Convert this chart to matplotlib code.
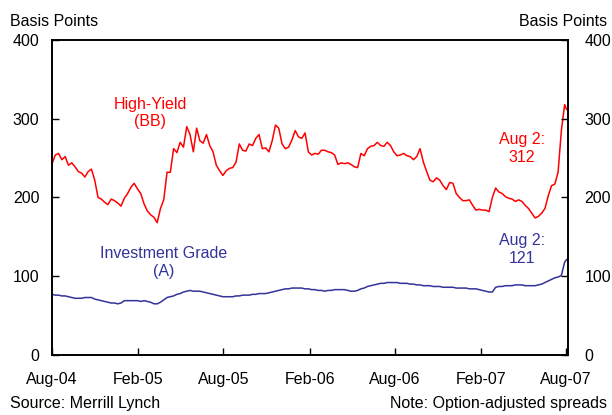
import matplotlib
matplotlib.use("Agg")
import matplotlib.pyplot as plt
import pandas as pd

plt.rcParams['font.family'] = ['Liberation Sans', 'DejaVu Sans']

# weekly observations starting 2004-08-01, plus final point on 2007-08-02
start_date = '2004-08-01'
final_date = '2007-08-02'

high_yield = [243, 254, 256, 248, 252, 241, 244, 239, 233, 231,
              226, 233, 236, 222, 200, 198, 194, 191, 198, 196,
              193, 189, 199, 205, 213, 218, 211, 205, 192, 183,
              178, 175, 168, 186, 197, 232, 232, 262, 257, 270,
              264, 290, 280, 258, 288, 272, 269, 280, 266, 258,
              241, 234, 228, 234, 237, 238, 245, 268, 260, 259,
              268, 266, 275, 280, 262, 263, 258, 272, 292, 288,
              268, 262, 264, 273, 285, 277, 275, 282, 258, 254,
              256, 255, 260, 260, 258, 257, 254, 242, 244, 243,
              244, 242, 239, 238, 256, 253, 262, 265, 266, 270,
              266, 265, 270, 266, 258, 253, 254, 256, 253, 252,
              248, 252, 262, 245, 233, 222, 220, 225, 222, 215,
              210, 219, 218, 205, 200, 196, 196, 197, 190, 184,
              185, 184, 184, 182, 200, 212, 207, 205, 201, 199,
              198, 195, 197, 195, 190, 186, 180, 174, 176, 180,
              186, 202, 215, 217, 232, 285, 318, 312]

inv_grade = [77, 76, 76, 75, 75, 74, 73, 72, 72, 72,
             73, 73, 73, 71, 70, 69, 68, 67, 66, 66,
             65, 66, 69, 69, 69, 69, 69, 68, 69, 68,
             67, 65, 65, 67, 70, 73, 74, 75, 77, 78,
             80, 81, 82, 81, 81, 81, 80, 79, 78, 77,
             76, 75, 74, 74, 74, 74, 75, 75, 76, 76,
             76, 77, 77, 78, 78, 78, 79, 80, 81, 82,
             83, 84, 84, 85, 85, 85, 85, 84, 84, 83,
             83, 82, 82, 81, 82, 82, 83, 83, 83, 83,
             82, 81, 81, 82, 84, 85, 87, 88, 89, 90,
             91, 91, 92, 92, 92, 92, 91, 91, 91, 90,
             90, 89, 89, 88, 88, 88, 87, 87, 87, 86,
             86, 86, 86, 85, 85, 85, 85, 84, 84, 84,
             83, 82, 81, 80, 80, 86, 87, 87, 88, 88,
             88, 89, 89, 89, 88, 88, 88, 88, 89, 90,
             92, 94, 96, 98, 99, 101, 118, 121]

xtick_labels = ['Aug-04', 'Feb-05', 'Aug-05', 'Feb-06', 'Aug-06', 'Feb-07', 'Aug-07']
xtick_dates = ['2004-08-01', '2005-02-01', '2005-08-01', '2006-02-01',
               '2006-08-01', '2007-02-01', '2007-08-01']
yticks = [0, 100, 200, 300, 400]

dates = list(pd.date_range(start_date, periods=len(high_yield) - 1, freq='7D'))
dates.append(pd.Timestamp(final_date))

red = '#FF0000'
blue = '#333399'
fs = 11.5

fig = plt.figure(figsize=(6.12, 4.15), dpi=100)
ax = fig.add_axes([0.085, 0.1446, 0.843, 0.759])

ax.plot(dates, high_yield, color=red, lw=1.1)
ax.plot(dates, inv_grade, color=blue, lw=1.1)

ax.set_ylim(0, 400)
ax.set_xlim(pd.Timestamp('2004-08-01'), pd.Timestamp('2007-08-05'))
ax.set_yticks(yticks)
ax.set_xticks([pd.Timestamp(d) for d in xtick_dates])
ax.set_xticklabels(xtick_labels)

ax2 = ax.twinx()
ax2.set_ylim(0, 400)
ax2.set_yticks(yticks)

ax.tick_params(axis='y', direction='in', left=True, right=False,
               labelleft=True, labelright=False, length=5, width=1, labelsize=fs, pad=9)
ax2.tick_params(axis='y', direction='in', length=5, width=1, labelsize=fs, pad=12)
ax.tick_params(axis='x', direction='in', top=False, length=5, width=1, labelsize=fs, pad=12)
for a in (ax, ax2):
    for s in a.spines.values():
        s.set_linewidth(1.2)
        s.set_color('black')

fig.text(0.016, 0.948, 'Basis Points', fontsize=fs, ha='left', va='center')
fig.text(0.992, 0.948, 'Basis Points', fontsize=fs, ha='right', va='center')
fig.text(0.016, 0.027, 'Source: Merrill Lynch', fontsize=fs, ha='left', va='center')
fig.text(0.992, 0.027, 'Note: Option-adjusted spreads', fontsize=fs, ha='right', va='center')

ax.text(pd.Timestamp('2005-02-26'), 307, 'High-Yield\n(BB)', color=red, fontsize=fs,
        ha='center', va='center', linespacing=1.2)
ax.text(pd.Timestamp('2007-04-29'), 262, 'Aug 2:\n312', color=red, fontsize=fs,
        ha='center', va='center', linespacing=1.2)
ax.text(pd.Timestamp('2005-03-26'), 117.5, 'Investment Grade\n(A)', color=blue, fontsize=fs,
        ha='center', va='center', linespacing=1.2)
ax.text(pd.Timestamp('2007-04-29'), 134, 'Aug 2:\n121', color=blue, fontsize=fs,
        ha='center', va='center', linespacing=1.2)

fig.savefig('out.png', dpi=100)
